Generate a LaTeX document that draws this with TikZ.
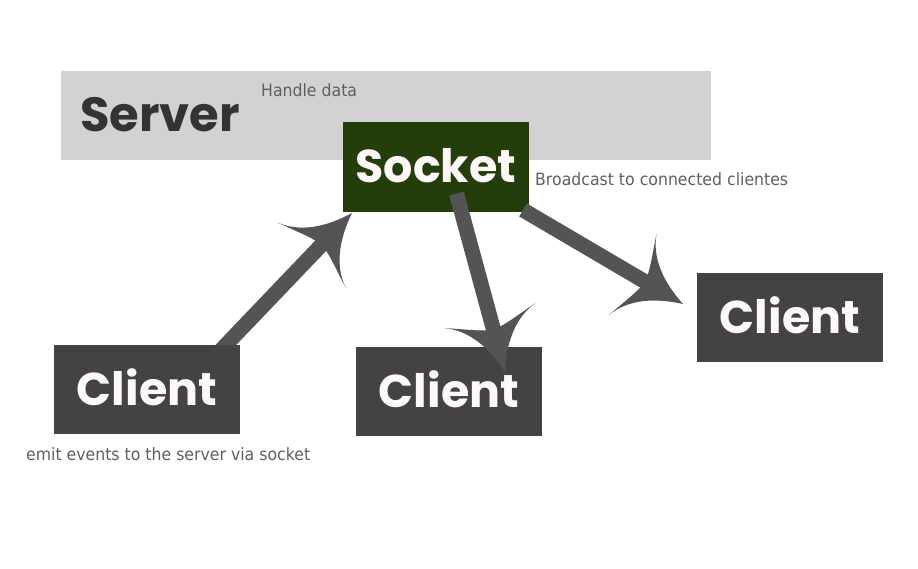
\documentclass[tikz,border=0pt]{standalone}
\usepackage{fontspec}
\newfontfamily\headfont{Poppins}
\newfontfamily\labfont{DejaVu Sans}[FakeStretch=0.925]
\usetikzlibrary{arrows.meta}
\definecolor{servergray}{HTML}{D2D2D2}
\definecolor{socketgreen}{HTML}{233E0A}
\definecolor{clientgray}{HTML}{434343}
\definecolor{arrowgray}{HTML}{555354}
\definecolor{servertext}{HTML}{333333}
\definecolor{clienttext}{HTML}{FFF8F8}
\definecolor{labeltext}{HTML}{5F5F5F}
\pgfdeclarearrow{
  name=Barb,
  setup code={
    \pgfarrowssettipend{0pt}
    \pgfarrowssetlineend{-36pt}
    \pgfarrowssetbackend{-58.5pt}
    \pgfarrowssetvisualbackend{-44pt}
    \pgfarrowshullpoint{0pt}{0pt}
    \pgfarrowshullpoint{-58.5pt}{47.5pt}
    \pgfarrowshullpoint{-58.5pt}{-47.5pt}
  },
  drawing code={
    \pgfpathmoveto{\pgfqpoint{0pt}{0pt}}
    \pgfpathcurveto{\pgfqpoint{-28pt}{9pt}}{\pgfqpoint{-50pt}{24pt}}{\pgfqpoint{-58.5pt}{47.5pt}}
    \pgfpathcurveto{\pgfqpoint{-52pt}{28pt}}{\pgfqpoint{-45pt}{12pt}}{\pgfqpoint{-44pt}{0pt}}
    \pgfpathcurveto{\pgfqpoint{-45pt}{-12pt}}{\pgfqpoint{-52pt}{-28pt}}{\pgfqpoint{-58.5pt}{-47.5pt}}
    \pgfpathcurveto{\pgfqpoint{-50pt}{-24pt}}{\pgfqpoint{-28pt}{-9pt}}{\pgfqpoint{0pt}{0pt}}
    \pgfpathclose
    \pgfusepathqfill
  }
}
\tikzset{
  boxbase/.style={inner sep=0pt, outer sep=0pt, anchor=north west, text height=32pt, text depth=0pt,
    font=\headfont\bfseries\fontsize{46pt}{50pt}\selectfont},
  clientbox/.style={boxbase, fill=clientgray, text=clienttext, minimum width=186pt, minimum height=89pt},
  socketbox/.style={boxbase, fill=socketgreen, text=clienttext, minimum width=186pt, minimum height=90pt},
  serverbox/.style={inner sep=0pt, outer sep=0pt, anchor=north west, fill=servergray, minimum width=650pt, minimum height=89pt},
  servertitle/.style={inner sep=0pt, anchor=base west, text=servertext,
    font=\headfont\bfseries\fontsize{48pt}{52pt}\selectfont},
  caption/.style={inner sep=0pt, anchor=base west, text=labeltext,
    font=\labfont\fontsize{17pt}{20pt}\selectfont},
  bigarrow/.style={draw=arrowgray, line width=15pt, line cap=butt, -{Barb}}
}
\begin{document}
\begin{tikzpicture}[x=1pt,y=-1pt]
\useasboundingbox[fill=white] (0,0) rectangle (918,569);
\node[serverbox] (server) at (61,71) {};
\node[servertitle] (servertxt) at (80,132) {Server};
\node[caption] (handle) at (261,97) {Handle data};
\node[socketbox] (socket) at (343,122) {Socket};
\node[caption] (bcast) at (535,186) {Broadcast to connected clientes};
\node[clientbox] (clientM) at (356,347) {Client};
\node[clientbox] (clientR) at (697,273) {Client};
\coordinate (a1s) at (221,350);
\coordinate (a1e) at (352,213);
\coordinate (a2s) at (456.5,193.5);
\coordinate (a2e) at (505,372);
\coordinate (a3s) at (523,210);
\coordinate (a3e) at (683,304);
\draw[bigarrow] (a1s) -- (a1e);
\draw[bigarrow] (a2s) -- (a2e);
\draw[bigarrow] (a3s) -- (a3e);
\node[clientbox] (clientL) at (54,345) {Client};
\node[caption] (emit) at (26,460) {emit events to the server via socket};
\end{tikzpicture}
\end{document}
